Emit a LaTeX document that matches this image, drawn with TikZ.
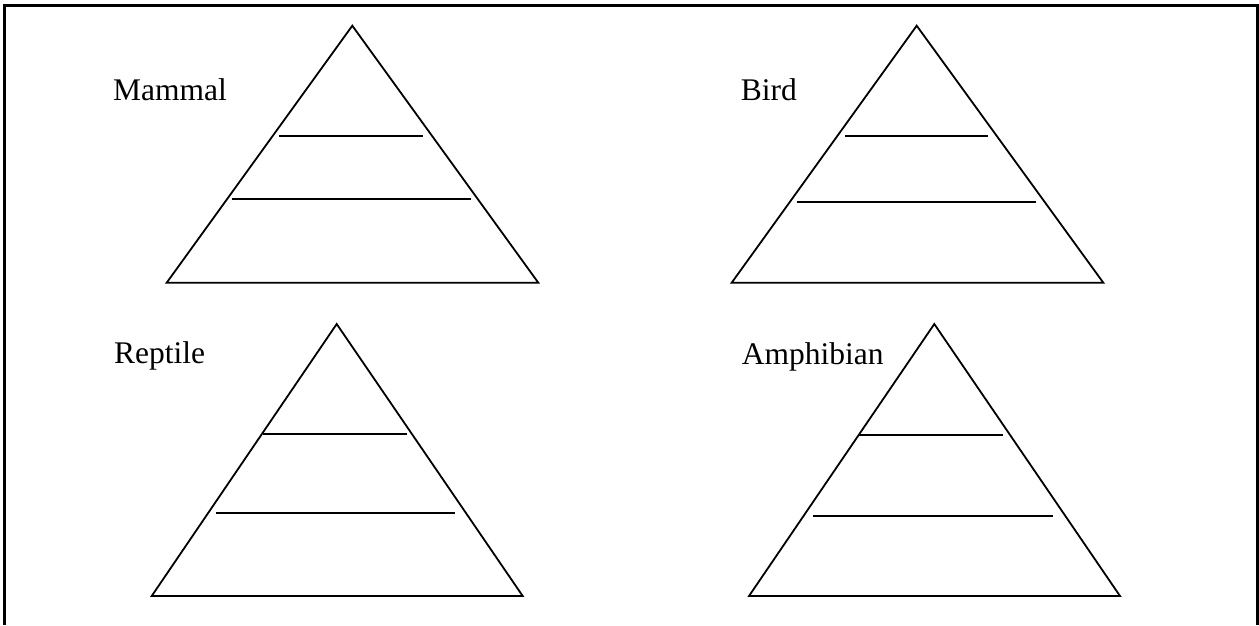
\documentclass[tikz,border=0pt]{standalone}
\usepackage{fontspec}
\setmainfont{Liberation Serif}
\begin{document}
\begin{tikzpicture}[x=1pt,y=-1pt,
  tri/.style={draw=black,line width=1.8pt,line join=miter},
  rung/.style={draw=black,line width=2pt},
  frame/.style={draw=black,line width=3pt},
  lbl/.style={anchor=base west,inner sep=0pt,font=\fontsize{31.5}{36}\selectfont}]
\useasboundingbox (0,0) rectangle (1259,625);
% frame (open at the bottom)
\coordinate (fbl) at (4,625);
\coordinate (ftl) at (4,5.5);
\coordinate (ftr) at (1257,5.5);
\coordinate (fbr) at (1257,625);
\draw[frame] (fbl) -- (ftl) -- (ftr) -- (fbr);
% Mammal
\node[lbl] (mammal) at (113,100) {Mammal};
\coordinate (m1) at (352.3,25.7);
\coordinate (m2) at (166.7,282.7);
\coordinate (m3) at (538.3,282.7);
\draw[tri] (m1) -- (m2) -- (m3) -- cycle;
\coordinate (ma1) at (279.3,136); \coordinate (mb1) at (422.7,136);
\coordinate (ma2) at (231.7,199.3); \coordinate (mb2) at (470.7,199.3);
\draw[rung] (ma1) -- (mb1);
\draw[rung] (ma2) -- (mb2);
% Bird
\node[lbl] (bird) at (740.7,100) {Bird};
\coordinate (b1) at (916.7,25.7);
\coordinate (b2) at (731.7,282.7);
\coordinate (b3) at (1103.3,282.7);
\draw[tri] (b1) -- (b2) -- (b3) -- cycle;
\coordinate (ba1) at (845,136); \coordinate (bb1) at (988.3,136);
\coordinate (ba2) at (796.7,201.7); \coordinate (bb2) at (1036,201.7);
\draw[rung] (ba1) -- (bb1);
\draw[rung] (ba2) -- (bb2);
% Reptile
\node[lbl] (reptile) at (114,363) {Reptile};
\coordinate (r1) at (336.7,324);
\coordinate (r2) at (151.7,596);
\coordinate (r3) at (522.7,596);
\draw[tri] (r1) -- (r2) -- (r3) -- cycle;
\coordinate (ra1) at (262.7,434.3); \coordinate (rb1) at (406.7,434.3);
\coordinate (ra2) at (215.7,513.3); \coordinate (rb2) at (455,513.3);
\draw[rung] (ra1) -- (rb1);
\draw[rung] (ra2) -- (rb2);
% Amphibian
\node[lbl] (amphibian) at (741.7,364) {Amphibian};
\coordinate (a1) at (934.3,324);
\coordinate (a2) at (749,596);
\coordinate (a3) at (1120,596);
\draw[tri] (a1) -- (a2) -- (a3) -- cycle;
\coordinate (aa1) at (859.3,435); \coordinate (ab1) at (1003.3,435);
\coordinate (aa2) at (813.3,516); \coordinate (ab2) at (1052.7,516);
\draw[rung] (aa1) -- (ab1);
\draw[rung] (aa2) -- (ab2);
\end{tikzpicture}
\end{document}
